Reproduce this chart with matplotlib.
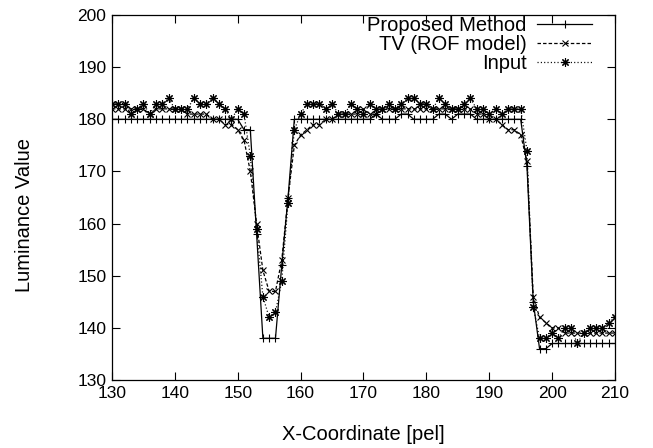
import matplotlib
matplotlib.use("Agg")
from matplotlib import pyplot as plt

plt.rcParams["font.family"] = ["Liberation Sans", "DejaVu Sans"]
plt.rcParams["font.size"] = 12.5
plt.rcParams["lines.scale_dashes"] = False

# pixel positions along the scan line
x_pel = list(range(130, 211))

proposed = [180] * 21 + [178, 178, 158, 138, 138, 138, 152, 165, 180] \
    + [180] * 12 + [181] + [180] * 3 + [181, 181] + [180] * 4 + [181, 181] + [180] \
    + [181] * 3 + [180] * 8 \
    + [171, 145, 136, 136] + [137] * 11

tv_rof = [182, 182, 182, 182, 182, 182, 181, 182, 182, 182,
          182, 182, 181, 181, 181, 181, 180, 180, 179, 179,
          178, 176, 170, 160, 151, 147, 147, 153, 165, 175,
          177, 178, 179, 179, 180, 180, 181, 181, 181, 181,
          182, 181, 181, 182, 182, 182, 182, 182, 182, 182,
          182, 182, 182, 182, 182, 182, 182, 182, 181, 181,
          180, 180, 179, 178, 178, 177, 172, 146, 142, 141,
          140, 140, 139, 139, 139, 139, 139, 139, 139, 139, 139]

noisy_input = [183, 183, 183, 181, 182, 183, 181, 183, 183, 184,
               182, 182, 182, 184, 183, 183, 184, 183, 182, 180,
               182, 181, 173, 159, 146, 142, 143, 149, 164, 178,
               181, 183, 183, 183, 182, 183, 181, 181, 183, 182,
               181, 183, 182, 182, 183, 182, 183, 184, 184, 183,
               183, 182, 184, 183, 182, 182, 183, 184, 182, 182,
               181, 182, 181, 182, 182, 182, 174, 144, 138, 138,
               139, 138, 140, 140, 137, 139, 140, 140, 140, 141, 142]

fig = plt.figure(figsize=(6.53, 4.48), dpi=100)
ax = fig.add_axes([0.1715, 0.1518, 0.7703, 0.8147])

ax.plot(x_pel, proposed, color="black", lw=0.9, ls="-",
        marker="+", ms=6, mew=0.8, label="Proposed Method")
ax.plot(x_pel, tv_rof, color="black", lw=0.9, ls=(0, (2.5, 1.5)),
        marker="x", ms=5, mew=0.8, label="TV (ROF model)")
ax.plot(x_pel, noisy_input, color="black", lw=0.9, ls=(0, (0.8, 1.6)),
        marker=(8, 2, 0), ms=6, mew=0.8, label="Input")

ax.set_xlim(130, 210)
ax.set_ylim(130, 200)
ax.set_xticks(range(130, 211, 10))
ax.set_yticks(range(130, 201, 10))
ax.tick_params(direction="in", length=6, width=0.8, top=True, right=True, pad=4)
for s in ax.spines.values():
    s.set_linewidth(0.9)

ax.set_xlabel("X-Coordinate [pel]", fontsize=14.5)
ax.set_ylabel("Luminance Value", fontsize=14.5)
ax.xaxis.set_label_coords(0.5, -0.122)
ax.yaxis.set_label_coords(-0.155, 0.452)

leg = ax.legend(loc="upper right", bbox_to_anchor=(0.962, 1.009), frameon=False,
                markerfirst=False, numpoints=1, handlelength=2.7,
                handletextpad=0.55, labelspacing=0.0, borderpad=0.2,
                borderaxespad=0.0, fontsize=14.5)
# gnuplot style key: labels right-justified against the samples
for col in leg._legend_handle_box.get_children():
    col.align = "right"

fig.savefig("out.png", dpi=100)
